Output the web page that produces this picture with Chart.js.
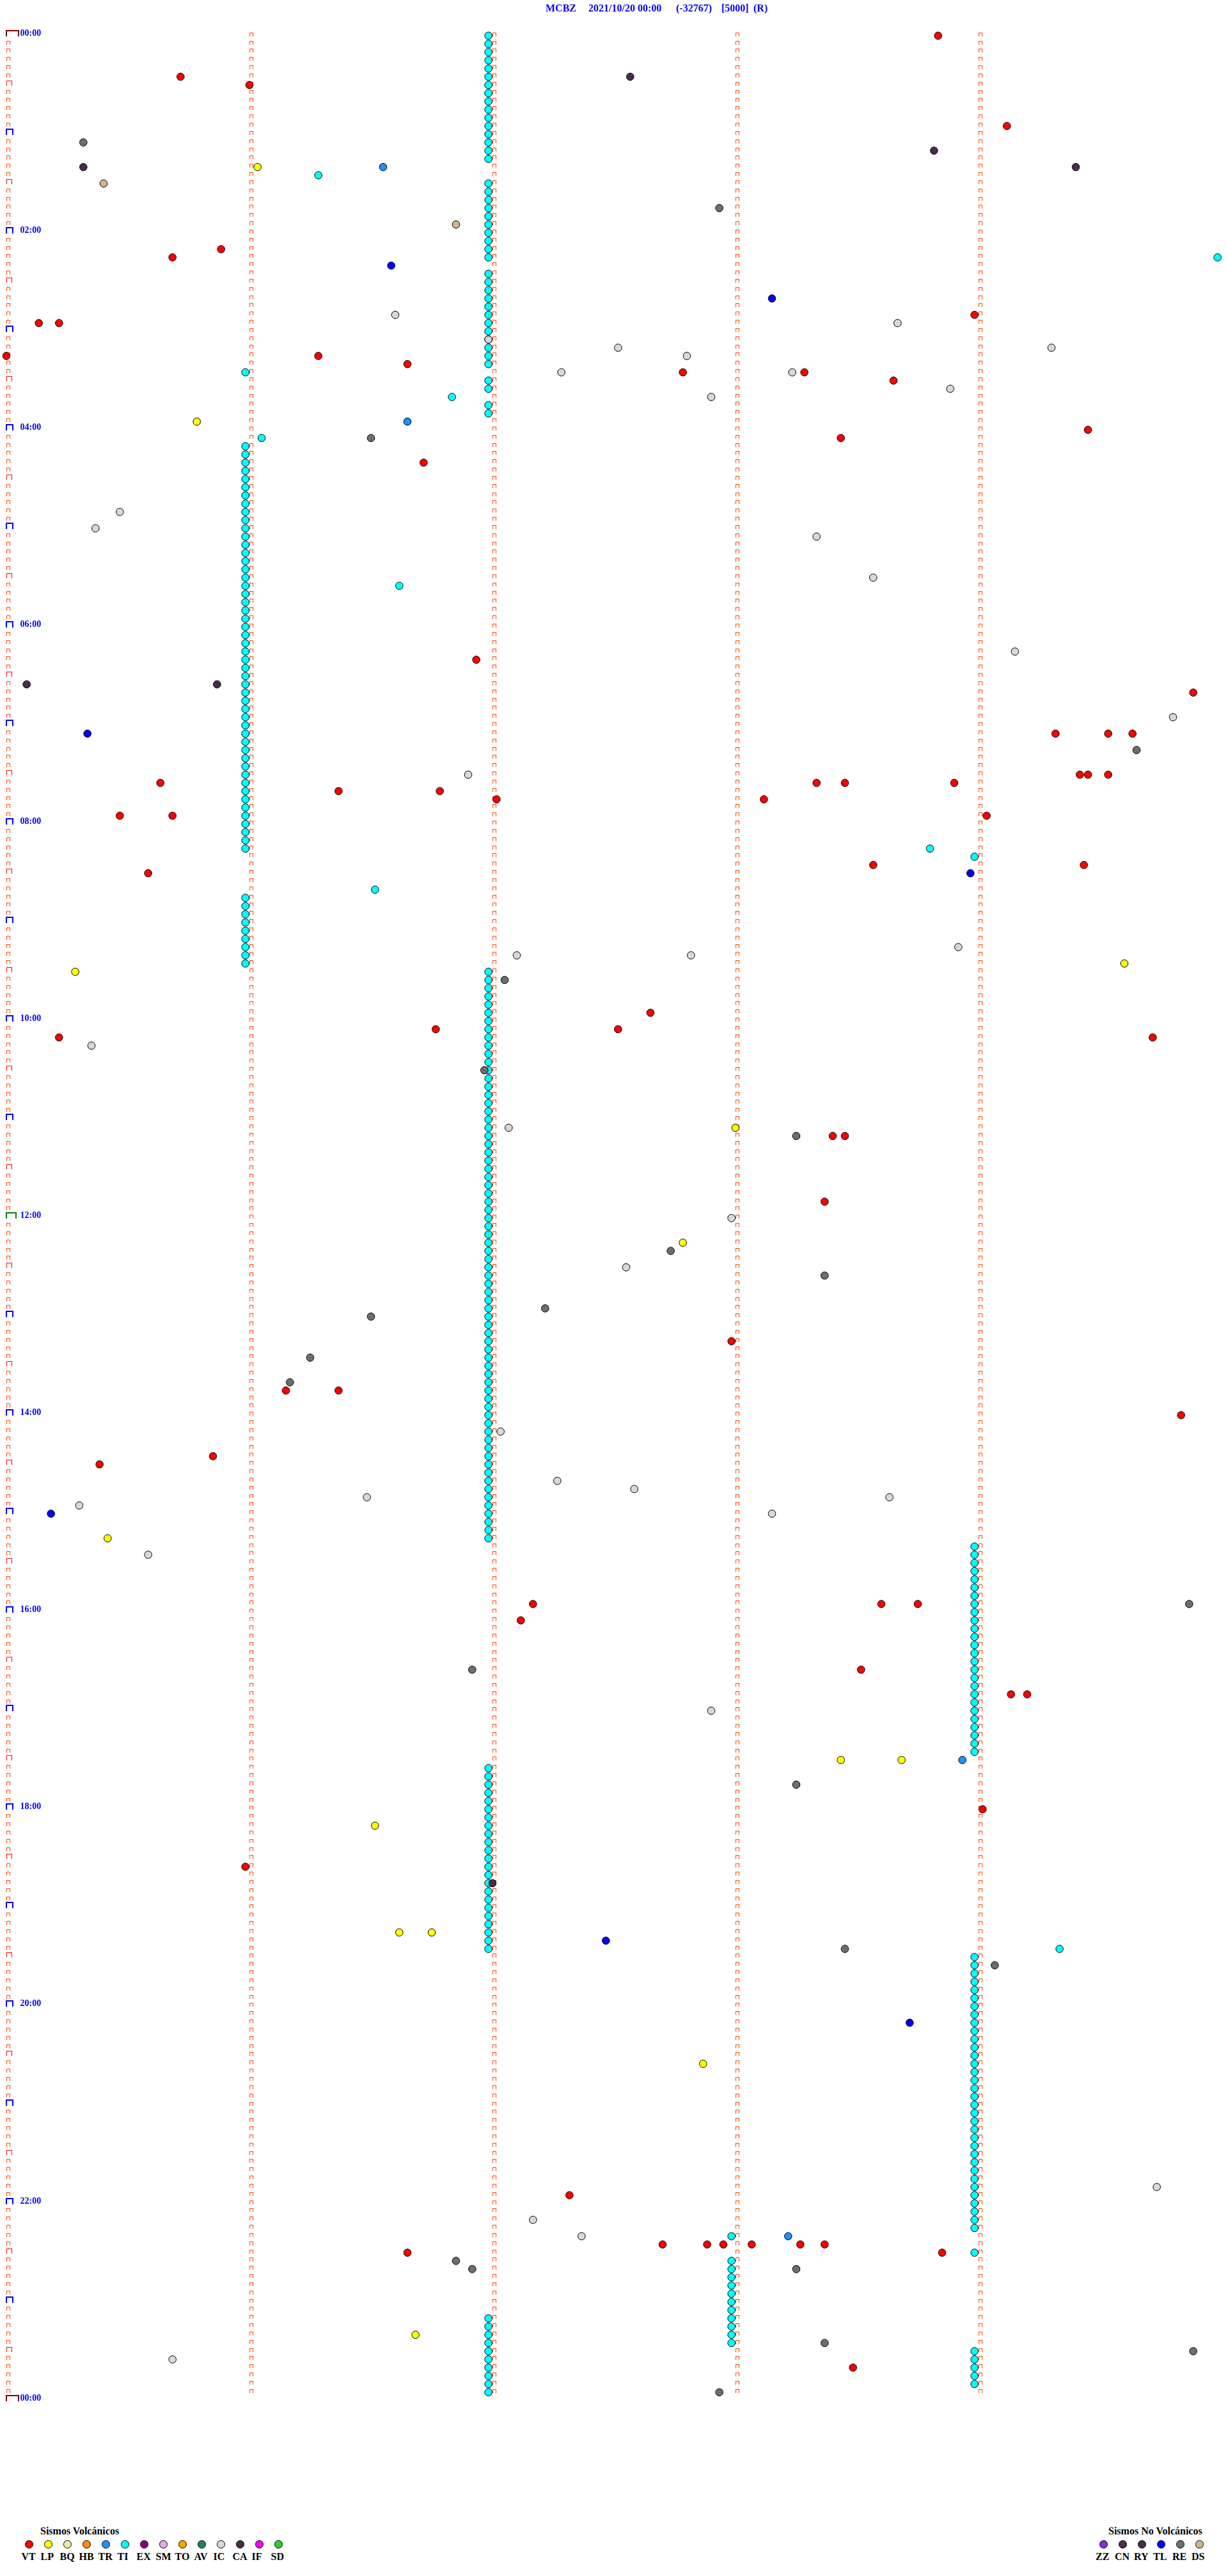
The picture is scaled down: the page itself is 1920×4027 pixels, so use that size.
<!DOCTYPE html>
<html>
<head>
<meta charset="utf-8">
<title>MCBZ 2021/10/20</title>
<script src="https://cdn.jsdelivr.net/npm/chart.js@4.4.1/dist/chart.umd.min.js"></script>
<style>
  body { margin: 0; background: #fff; width: 1920px; height: 4027px; position: relative; overflow: hidden; }
  #wrap { position: absolute; left: 0; top: 0; width: 1920px; height: 3800px; }
  .t { position: absolute; top: 5px; font: bold 16px/16px "Liberation Serif", serif; color: #0000ff; white-space: pre; }
  .lt { position: absolute; font: bold 16px/16px "Liberation Serif", serif; color: #000; white-space: pre; }
  .dot { position: absolute; width: 11px; height: 11px; border: 1px solid #000; border-radius: 50%; }
</style>
</head>
<body>
<div id="wrap"><canvas id="drum" width="1920" height="3800"></canvas></div>
<div id="title"></div>
<div id="legend"></div>
<script>
// station header pieces
const titleParts = ['MCBZ', '2021/10/20 00:00', '(-32767)', '[5000]', '(R)'];
const titleLeft = [853, 920, 1057, 1128, 1178];

// legend: volcanic / non volcanic types
const volcCodes = ['VT', 'LP', 'BQ', 'HB', 'TR', 'TI', 'EX', 'SM', 'TO', 'AV', 'IC', 'CA', 'IF', 'SD'];
const volcColors = ['#ff0000', '#ffff00', '#eee8aa', '#ff8c00', '#1e90ff', '#00ffff', '#8b008b', '#e6a8e6', '#ffa500', '#1f7f63', '#d8d8d8', '#4a2c4a', '#ff00ff', '#32cd32'];
const nonVolcCodes = ['ZZ', 'CN', 'RY', 'TL', 'RE', 'DS'];
const nonVolcColors = ['#8a2be2', '#4a3050', '#4a2c4a', '#0000ff', '#6e6e6e', '#d2b48c'];

// hour labels every 2 h
const hourLabels = ['00:00', '02:00', '04:00', '06:00', '08:00', '10:00', '12:00', '14:00', '16:00', '18:00', '20:00', '22:00', '00:00'];

// event times (HH:MM:SS)
const VT = ['00:03:50', '00:25:43', '00:31:00', '00:59:07', '02:10:53', '02:15:41', '02:53:59', '02:55:08', '02:55:13',
  '03:15:00', '03:16:17', '03:21:39', '03:27:47', '03:28:17', '03:33:39', '04:04:27', '04:08:26', '04:21:43',
  '06:21:56', '06:44:53', '07:09:19', '07:09:32', '07:09:38', '07:34:25', '07:34:27', '07:34:32', '07:35:38',
  '07:38:20', '07:38:27', '07:38:54', '07:41:22', '07:41:47', '07:47:01', '07:48:07', '07:55:28', '07:55:41',
  '07:59:02', '08:28:34', '08:29:26', '08:30:35', '09:57:39', '10:06:46', '10:07:31', '10:10:13', '10:14:43',
  '11:13:24', '11:13:27', '11:53:22', '13:17:59', '13:46:09', '13:46:22', '14:04:50', '14:25:51', '14:30:23',
  '15:57:10', '15:58:36', '15:58:45', '16:07:07', '16:38:31', '16:54:08', '16:54:12', '18:04:01', '18:35:59',
  '21:57:19', '22:27:42', '22:27:53', '22:27:57', '22:28:04', '22:28:16', '22:28:22', '22:31:39', '22:33:51',
  '23:43:29'];
const LP = ['01:21:02', '03:55:47', '09:29:36', '09:30:17', '11:08:00', '12:17:47', '15:15:25', '17:33:26', '17:33:41',
  '18:11:31', '19:16:37', '19:16:45', '20:37:52', '23:21:41'];
const TR = ['01:21:33', '03:56:39', '17:33:56', '22:23:13'];
const IC = ['02:51:36', '02:58:40', '03:06:59', '03:12:31', '03:14:18', '03:17:48', '03:27:17', '03:28:14', '03:38:53',
  '03:42:54', '04:50:28', '05:00:22', '05:08:20', '05:33:34', '06:19:09', '06:59:48', '07:31:54', '09:18:55',
  '09:22:06', '09:22:49', '10:15:21', '11:07:04', '12:02:59', '12:32:33', '14:12:02', '14:42:16', '14:47:35',
  '14:51:29', '14:53:38', '14:55:18', '15:03:09', '15:25:35', '17:02:54', '21:54:44', '22:12:10', '22:22:22',
  '23:35:41'];
const CA = ['00:27:34', '01:13:49', '01:20:19', '01:24:24', '06:35:05', '06:35:52', '18:47:00'];
const TL = ['02:21:35', '02:43:09', '07:05:20', '08:33:58', '15:00:11', '19:22:28', '20:13:43'];
const RE = ['01:05:19', '01:47:56', '04:06:30', '07:19:39', '09:37:03', '10:31:58', '11:13:15', '12:22:44', '12:38:22',
  '12:57:13', '13:01:30', '13:26:15', '13:41:10', '15:59:52', '16:36:55', '17:48:15', '19:28:27', '19:39:04',
  '22:36:51', '22:41:55', '22:43:15', '23:28:22', '23:34:53', '23:57:56'];
const DS = ['01:30:24', '01:56:51'];
const TI = [
  // isolated
  '01:26:17', '02:19:59', '03:25:59', '03:41:50', '04:06:03', '05:36:37', '08:18:48', '08:41:31', '19:29:20', '22:22:59', '22:33:59',
  // tremor, early morning
  '00:01:59', '00:06:59', '00:11:59', '00:16:59', '00:21:59', '00:26:59', '00:31:59', '00:36:59', '00:41:59', '00:46:59', '00:51:59', '00:56:59',
  '01:01:59', '01:06:59', '01:11:59', '01:16:59',
  '01:31:59', '01:36:59', '01:41:59', '01:46:59', '01:51:59', '01:56:59', '02:01:59', '02:06:59', '02:11:59', '02:16:59',
  '02:26:59', '02:31:59', '02:36:59', '02:41:59', '02:46:59', '02:51:59', '02:56:59', '03:01:59', '03:06:59', '03:11:59', '03:16:59', '03:21:59',
  '03:31:59', '03:36:59', '03:46:59', '03:51:59',
  '04:10:59', '04:15:59', '04:20:59', '04:25:59', '04:30:59', '04:35:59', '04:40:59', '04:45:59', '04:50:59', '04:55:59',
  '05:00:59', '05:05:59', '05:10:59', '05:15:59', '05:20:59', '05:25:59', '05:30:59', '05:35:59', '05:40:59', '05:45:59', '05:50:59', '05:55:59',
  '06:00:59', '06:05:59', '06:10:59', '06:15:59', '06:20:59', '06:25:59', '06:30:59', '06:35:59', '06:40:59', '06:45:59', '06:50:59', '06:55:59',
  '07:00:59', '07:05:59', '07:10:59', '07:15:59', '07:20:59', '07:25:59', '07:30:59', '07:35:59', '07:40:59', '07:45:59', '07:50:59', '07:55:59',
  '08:00:59', '08:05:59', '08:10:59', '08:15:59', '08:23:59',
  '08:45:59', '08:50:59', '08:55:59', '09:00:59', '09:05:59', '09:10:59', '09:15:59', '09:20:59', '09:25:59',
  // tremor, midday
  '09:31:59', '09:36:59', '09:41:59', '09:46:59', '09:51:59', '09:56:59',
  '10:01:59', '10:06:59', '10:11:59', '10:16:59', '10:21:59', '10:26:59', '10:31:59', '10:36:59', '10:41:59', '10:46:59', '10:51:59', '10:56:59',
  '11:01:59', '11:06:59', '11:11:59', '11:16:59', '11:21:59', '11:26:59', '11:31:59', '11:36:59', '11:41:59', '11:46:59', '11:51:59', '11:56:59',
  '12:01:59', '12:06:59', '12:11:59', '12:16:59', '12:21:59', '12:26:59', '12:31:59', '12:36:59', '12:41:59', '12:46:59', '12:51:59', '12:56:59',
  '13:01:59', '13:06:59', '13:11:59', '13:16:59', '13:21:59', '13:26:59', '13:31:59', '13:36:59', '13:41:59', '13:46:59', '13:51:59', '13:56:59',
  '14:01:59', '14:06:59', '14:11:59', '14:16:59', '14:21:59', '14:26:59', '14:31:59', '14:36:59', '14:41:59', '14:46:59', '14:51:59', '14:56:59',
  '15:01:59', '15:06:59', '15:11:59', '15:16:59',
  // tremor, afternoon / night
  '15:23:59', '15:28:59', '15:33:59', '15:38:59', '15:43:59', '15:48:59', '15:53:59', '15:58:59',
  '16:03:59', '16:08:59', '16:13:59', '16:18:59', '16:23:59', '16:28:59', '16:33:59', '16:38:59', '16:43:59', '16:48:59', '16:53:59', '16:58:59',
  '17:03:59', '17:08:59', '17:13:59', '17:18:59', '17:23:59', '17:28:59',
  '17:36:59', '17:41:59', '17:46:59', '17:51:59', '17:56:59',
  '18:01:59', '18:06:59', '18:11:59', '18:16:59', '18:21:59', '18:26:59', '18:31:59', '18:36:59', '18:41:59', '18:46:59', '18:51:59', '18:56:59',
  '19:01:59', '19:06:59', '19:11:59', '19:16:59', '19:21:59', '19:26:59',
  '19:33:59', '19:38:59', '19:43:59', '19:48:59', '19:53:59', '19:58:59',
  '20:03:59', '20:08:59', '20:13:59', '20:18:59', '20:23:59', '20:28:59', '20:33:59', '20:38:59', '20:43:59', '20:48:59', '20:53:59', '20:58:59',
  '21:03:59', '21:08:59', '21:13:59', '21:18:59', '21:23:59', '21:28:59', '21:33:59', '21:38:59', '21:43:59', '21:48:59', '21:53:59', '21:58:59',
  '22:03:59', '22:08:59', '22:13:59', '22:18:59',
  '22:37:59', '22:42:59', '22:47:59', '22:52:59', '22:57:59', '23:02:59', '23:07:59', '23:12:59', '23:17:59', '23:22:59', '23:27:59',
  '23:11:59', '23:16:59', '23:21:59', '23:26:59', '23:31:59', '23:36:59', '23:41:59', '23:46:59', '23:51:59', '23:56:59',
  '23:33:59', '23:38:59', '23:43:59', '23:48:59', '23:53:59'
];

const ROW_SEC = 300;   // one drum line = 5 minutes
const ROWS = 288;

// HH:MM:SS -> {x: seconds into the line, y: minute the line starts}
function toPoint(s) {
  const [h, m, sec] = s.split(':').map(Number);
  const t = h * 3600 + m * 60 + sec;
  const row = Math.floor(t / ROW_SEC);
  return { x: t - row * ROW_SEC, y: row * 5 };
}

function series(label, times, color) {
  return {
    label: label,
    data: times.map(toPoint),
    backgroundColor: color,
    borderColor: '#000',
    borderWidth: 1,
    pointRadius: 5.8,
    pointHoverRadius: 5.8,
    clip: false
  };
}

// minute ticks drawn as little caps, bigger at :30, hours, noon and midnight
function cap(ctx, x, y, w, h, lw, color) {
  ctx.fillStyle = color;
  ctx.fillRect(x, y - h + 1, w, lw);
  ctx.fillRect(x, y - h + 1, lw, h);
  ctx.fillRect(x + w - lw, y - h + 1, lw, h);
}

const drumMarks = {
  id: 'drumMarks',
  beforeDatasetsDraw(chart) {
    const { ctx, scales: { x, y } } = chart;
    ctx.save();
    for (let r = 0; r <= ROWS; r++) {
      const py = Math.round(y.getPixelForValue(r * 5));
      for (let m = 0; m < 5; m++) {
        if (r === ROWS && m > 0) continue;
        const px = Math.round(x.getPixelForValue(m * 60));
        if (m === 0 && r % ROWS === 0) cap(ctx, px - 1, py, 21, 10, 2, '#800000');
        else if (m === 0 && r === ROWS / 2) cap(ctx, px - 1, py, 17, 10, 2, '#008000');
        else if (m === 0 && r % 12 === 0) cap(ctx, px - 1, py, 12, 10, 2, '#0000ff');
        else if (m === 0 && r % 6 === 0) cap(ctx, px, py, 9, 8, 1, '#ff0000');
        else cap(ctx, px, py, 6, 6, 1, '#ff4500');
      }
    }
    ctx.restore();
  },
  afterDatasetsDraw(chart) {
    const { ctx, scales: { y } } = chart;
    ctx.save();
    ctx.font = 'bold 14px "Liberation Serif"';
    ctx.fillStyle = '#0000ff';
    ctx.textBaseline = 'alphabetic';
    hourLabels.forEach((lab, i) => {
      ctx.fillText(lab, 31.5, Math.round(y.getPixelForValue(i * 120)));
    });
    ctx.restore();
  }
};

new Chart(document.getElementById('drum'), {
  type: 'scatter',
  data: {
    datasets: [
      series('VT', VT, '#ff0000'),
      series('LP', LP, '#ffff00'),
      series('TR', TR, '#1e90ff'),
      series('IC', IC, '#d8d8d8'),
      series('CA', CA, '#4a2c4a'),
      series('TL', TL, '#0000ff'),
      series('RE', RE, '#6e6e6e'),
      series('DS', DS, '#d2b48c'),
      series('TI', TI, '#00ffff')
    ]
  },
  options: {
    responsive: false,
    animation: false,
    events: [],
    layout: { padding: { left: 10, right: 10, top: 55.8, bottom: 3800 - 3752.6 } },
    plugins: { legend: { display: false }, tooltip: { enabled: false } },
    scales: {
      x: { type: 'linear', min: 0, max: ROW_SEC, display: false },
      y: { type: 'linear', min: 0, max: ROWS * 5, reverse: true, display: false }
    }
  },
  plugins: [drumMarks]
});

// header
const title = document.getElementById('title');
titleParts.forEach((p, i) => {
  const s = document.createElement('span');
  s.className = 't';
  s.style.left = titleLeft[i] + 'px';
  s.textContent = p;
  title.appendChild(s);
});

// legend blocks
const legend = document.getElementById('legend');
function addText(txt, left, top) {
  const d = document.createElement('div');
  d.className = 'lt';
  d.style.left = left + 'px';
  d.style.top = top + 'px';
  d.textContent = txt;
  legend.appendChild(d);
}
function legendBlock(heading, headLeft, codes, colors, dotX0, labX0) {
  addText(heading, headLeft, 3949);
  codes.forEach((c, i) => {
    const d = document.createElement('div');
    d.className = 'dot';
    d.style.left = (dotX0 + 30 * i - 6.5) + 'px';
    d.style.top = (3977 - 6.5) + 'px';
    d.style.background = colors[i];
    legend.appendChild(d);
    addText(c, labX0 + 30 * i, 3989);
  });
}
legendBlock('Sismos Volcánicos', 63, volcCodes, volcColors, 45.7, 33.5);
legendBlock('Sismos No Volcánicos', 1733, nonVolcCodes, nonVolcColors, 1725.7, 1713);
</script>
</body>
</html>
